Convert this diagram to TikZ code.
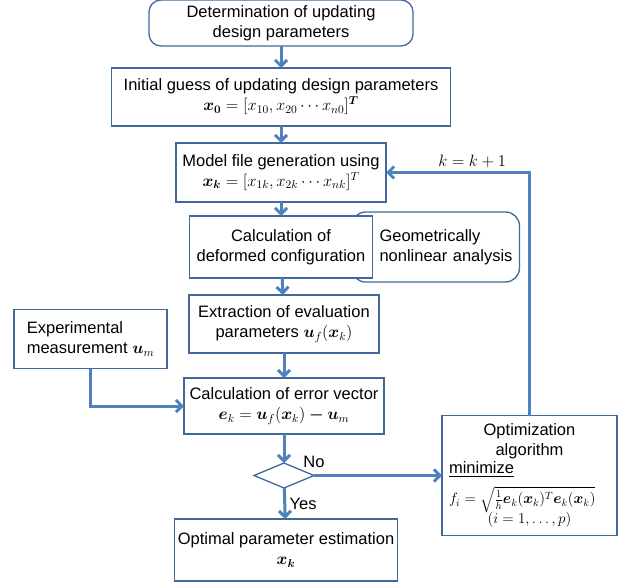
\documentclass[tikz,border=0pt]{standalone}
\usepackage{fix-cm}
\usepackage{amsmath,bm}
\usepackage{fontspec}
\setmainfont{Liberation Sans}
\usetikzlibrary{shapes.geometric, arrows.meta, positioning, backgrounds}

\definecolor{flowblue}{RGB}{79,129,189}
\definecolor{edgeblue}{RGB}{65,105,155}

\tikzset{
	box/.style={draw=edgeblue, line width=1.3pt, fill=white, align=center, inner sep=3pt, outer sep=0pt, font=\fontsize{16.5}{20}\selectfont},
	rbox/.style={box, rounded corners=12pt},
	flow/.style={-{Straight Barb[length=6pt,width=12pt]}, line width=3pt, flowblue},
	tag/.style={text=black, font=\fontsize{16.5}{20}\selectfont},
	test/.style={diamond, draw=edgeblue, line width=1.3pt, fill=white, minimum width=60pt, minimum height=25pt, inner sep=0pt, outer sep=0pt},
}

\begin{document}
\begin{tikzpicture}[x=1pt, y=-1pt, node distance=20pt]
	\useasboundingbox (0,0) rectangle (629,586);
	\node[rbox, minimum width=264pt, minimum height=46pt] at (281,23) (define) {Determination of updating\\design parameters};
	\node[box, below=22pt of define, minimum width=339pt, minimum height=58pt] (guess) {Initial guess of updating design parameters\\$\bm{x_0}=[x_{10},x_{20}\cdots x_{n0}]^{\bm{T}}$};
	\node[box, below=17pt of guess, minimum width=210pt, minimum height=59pt] (model) {Model file generation using\\$\bm{x_k}=[x_{1k},x_{2k}\cdots x_{nk}]^{T}$};
	\node[box, below=14pt of model, minimum width=183pt, minimum height=62pt] (deform) {Calculation of\\deformed configuration};
	\node[box, below=17pt of deform, xshift=3pt, minimum width=190pt, minimum height=58pt] (extract) {Extraction of evaluation\\parameters $\bm{u}_f(\bm{x}_k)$};
	\node[box, below=25pt of extract, minimum width=200pt, minimum height=56pt] (error) {Calculation of error vector\\$\bm{e}_k=\bm{u}_f(\bm{x}_k)\bm{-}\bm{u}_m$};
	\node[test, below=29pt of error] (check) {};
	\node[box, below=31pt of check, xshift=2pt, minimum width=217pt, minimum height=62pt] (optimal) {Optimal parameter estimation\\$\bm{x_k}$};
	\node[box, left=17pt of error, yshift=67pt, minimum width=153pt, minimum height=59pt, align=left] (measure) {Experimental\\measurement $\bm{u}_m$};
	\node[box, right=128pt of check, text width=165pt, inner xsep=5pt, minimum height=120pt] (optim) {Optimization\\algorithm\\[-2pt]
		\makebox[165pt][l]{\hspace*{2pt}\underline{minimize}}\\[8pt]
		\makebox[165pt][l]{\hspace*{2pt}\fontsize{15}{18}\selectfont$f_i=\sqrt{\frac{1}{h}\bm{e}_k(\bm{x}_k)^T\bm{e}_k(\bm{x}_k)}$}\\[0pt]
		\makebox[165pt][c]{\fontsize{15}{18}\selectfont$(i=1,\ldots,p)$}};
	\begin{scope}[on background layer]
		\node[rbox, rounded corners=14pt, right=-21pt of deform, text width=160pt, inner xsep=4pt, minimum height=70pt, align=left] (geom) {\hspace*{24pt}Geometrically\\\hspace*{24pt}nonlinear analysis};
	\end{scope}
	\foreach \from/\to in {define/guess, guess/model, model/deform, deform/extract, extract/error, error/check}
		\draw[flow] (\from) -- (\to);
	\draw[flow] (check) -- node[right, tag] {Yes} (optimal);
	\draw[flow] (check.east) -- node[above, pos=0, tag, yshift=3pt] {No} (optim.west);
	\draw[flow] (measure.south) |- (error.west);
	\draw[flow] (optim.north) |- node[above, pos=0.7, tag] {$k=k+1$} (model.east);
\end{tikzpicture}
\end{document}
